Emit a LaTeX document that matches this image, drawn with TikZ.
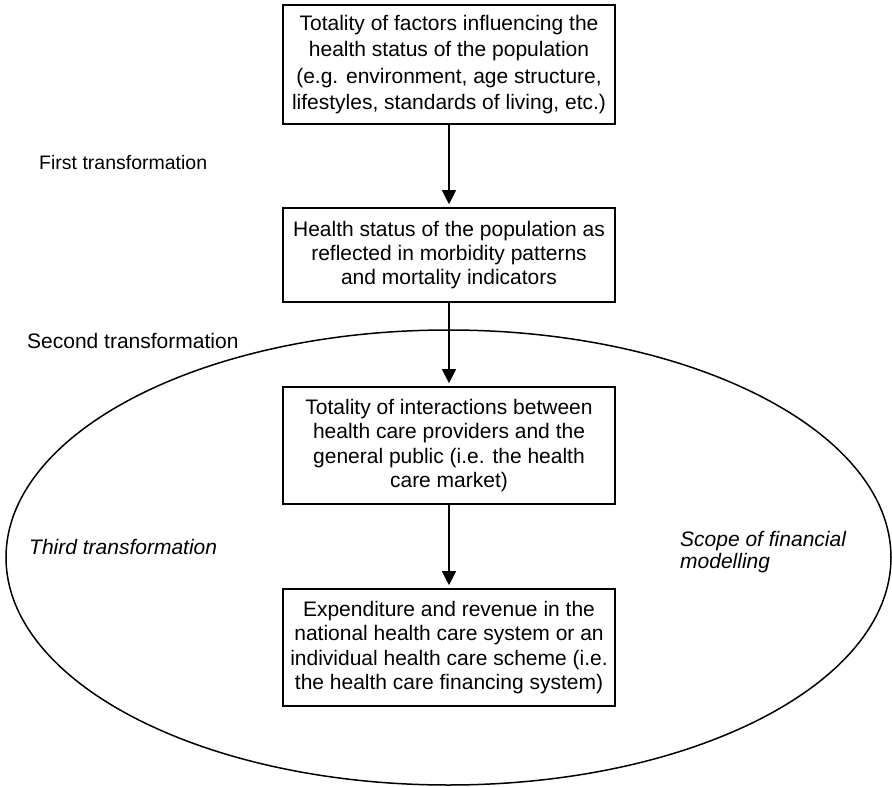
\documentclass[tikz,border=0pt]{standalone}
\usepackage{fontspec}
\setmainfont{Liberation Sans}
\usetikzlibrary{arrows.meta}

\tikzset{
  stagebox/.style={draw=black, line width=2.6pt, fill=white, align=center,
    minimum width=332pt, inner sep=0pt,
    font=\fontsize{21}{24.3}\selectfont},
  flow/.style={draw=black, line width=1.1pt,
    -{Triangle[length=14pt,width=14pt]}, shorten >=2.5pt},
  steplabel/.style={anchor=west, inner sep=0pt, align=left,
    font=\fontsize{21}{22}\selectfont},
  scopeline/.style={draw=black, line width=1.5pt}
}

\begin{document}
\begin{tikzpicture}[x=1pt, y=-1pt]
  \useasboundingbox (0,0) rectangle (892,787);

  % boundary of the modelling scope
  \draw[scopeline] (448.5,557.5) ellipse [x radius=442.5, y radius=227.5];

  % the four stages
  \node[stagebox, minimum height=119pt, font=\fontsize{21}{26.2}\selectfont] (factors) at (449,64.5)
    {Totality of factors influencing the\\
     health status of the population\\
     (e.g. environment, age structure,\\
     lifestyles, standards of living, etc.)};
  \node[stagebox, minimum height=94pt] (status) at (449,255)
    {Health status of the population as\\
     reflected in morbidity patterns\\
     and mortality indicators};
  \node[stagebox, minimum height=117pt] (market) at (449,445.5)
    {Totality of interactions between\\
     health care providers and the\\
     general public (i.e. the health\\
     care market)};
  \node[stagebox, minimum height=117pt] (finance) at (449,647.5)
    {Expenditure and revenue in the\\
     national health care system or an\\
     individual health care scheme (i.e.\\
     the health care financing system)};

  % transformations between the stages
  \draw[flow] (factors.south) -- (status.north);
  \draw[flow] (status.south) -- (market.north);
  \draw[flow] (market.south) -- (finance.north);

  % labels
  \node[steplabel, font=\fontsize{19.5}{22}\selectfont] (first) at (39,163) {First transformation};
  \node[steplabel] (second) at (27,341) {Second transformation};
  \node[steplabel, font=\fontsize{21}{22}\selectfont\itshape] (third) at (29,547) {Third transformation};
  \node[steplabel, font=\fontsize{21}{22}\selectfont\itshape] (scope) at (680,552)
    {Scope of financial\\modelling};
\end{tikzpicture}
\end{document}
